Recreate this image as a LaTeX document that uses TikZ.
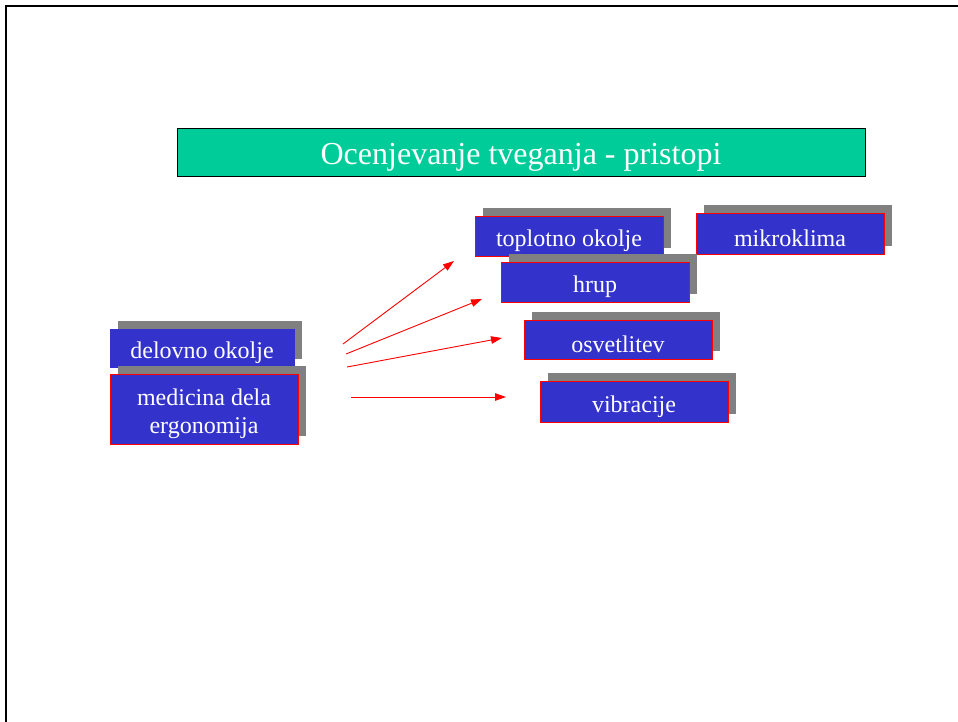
\documentclass[tikz,border=0pt]{standalone}
\usepackage{fontspec}
\setmainfont{Liberation Serif}
\usetikzlibrary{shadows,arrows.meta}
\definecolor{boxblue}{HTML}{3333CC}
\definecolor{shadowgray}{HTML}{808080}
\definecolor{titlegreen}{HTML}{00CC99}
\tikzset{
  boxtext/.style={text=white, inner sep=0pt, yshift=-5pt,
    font=\fontsize{24}{28}\selectfont, align=center},
  topicbox/.style={fill=boxblue, draw=red, line width=0.8pt,
    minimum width=188pt, minimum height=40pt, inner sep=0pt,
    general shadow={fill=shadowgray, shadow xshift=8pt, shadow yshift=8pt},
    label={[boxtext]center:#1}},
  plainbox/.style={topicbox=#1, draw=boxblue},
  link/.style={red, line width=0.9pt, -{Triangle[length=11pt,width=7.5pt]}}
}
\begin{document}
\begin{tikzpicture}[x=1pt,y=-1pt]
  \useasboundingbox (0,0) rectangle (958,722);
  \fill[white] (0,0) rectangle (958,722);
  % slide frame
  \draw[black, line width=2pt] (6,730) -- (6,6.5) -- (965,6.5);
  % heading
  \node[fill=titlegreen, draw=black, line width=0.6pt,
        minimum width=688pt, minimum height=48pt, inner sep=0pt,
        label={[text=white, inner sep=0pt, yshift=-5pt,
                font=\fontsize{32}{36}\selectfont]center:Ocenjevanje tveganja - pristopi}]
        (title) at (521,152) {};
  % source topics
  \node[plainbox={delovno okolje}, minimum width=184pt, minimum height=38pt] (delovno) at (202,348) {};
  \node[topicbox={medicina dela\\ergonomija}, minimum height=70pt] (medicina) at (204,409) {};
  % target topics
  \node[topicbox={toplotno okolje}] (toplotno) at (569,236) {};
  \node[topicbox={mikroklima}, minimum height=41pt] (mikro) at (790,233.5) {};
  \node[topicbox={hrup}] (hrup) at (595,282) {};
  \node[topicbox={osvetlitev}, minimum height=39pt] (osvet) at (618,339.5) {};
  \node[topicbox={vibracije}, minimum height=41pt] (vibra) at (634,401.5) {};
  % arrow anchors
  \coordinate (s1) at (343,344);
  \coordinate (e1) at (454,261);
  \coordinate (s2) at (346,354);
  \coordinate (e2) at (482,299);
  \coordinate (s3) at (347,367);
  \coordinate (e3) at (502,338);
  \coordinate (s4) at (351,397);
  \coordinate (e4) at (506,397);
  \draw[link] (s1) -- (e1);
  \draw[link] (s2) -- (e2);
  \draw[link] (s3) -- (e3);
  \draw[link] (s4) -- (e4);
\end{tikzpicture}
\end{document}
